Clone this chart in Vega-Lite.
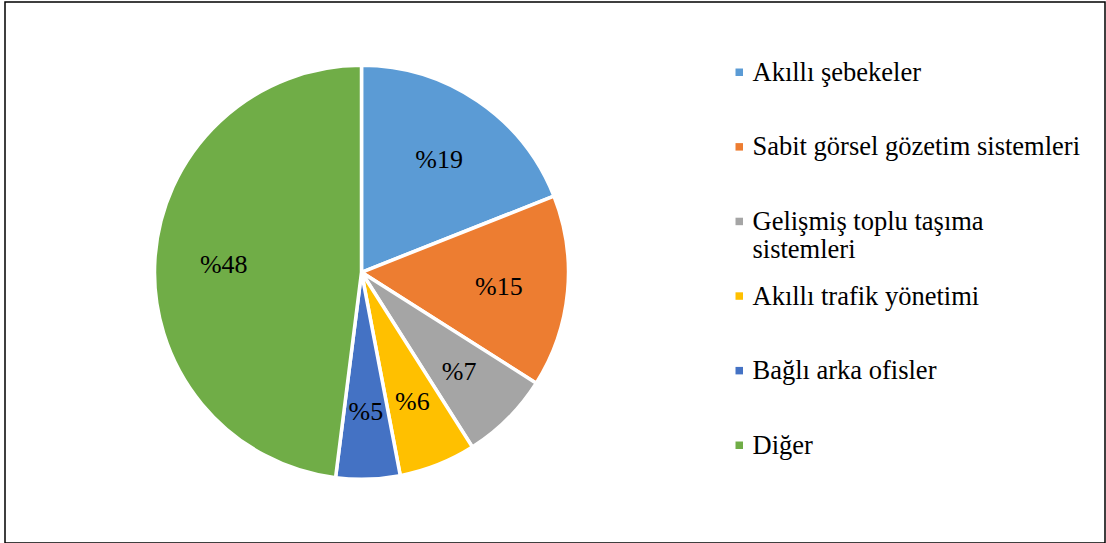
{
  "$schema": "https://vega.github.io/schema/vega-lite/v6.json",
  "width": 1100,
  "height": 541,
  "padding": {"left": 5, "top": 2, "right": 1, "bottom": 0},
  "autosize": {"type": "none"},
  "background": "white",
  "view": {"stroke": "#000", "strokeWidth": 1.5, "fill": "white"},
  "config": {"view": {"stroke": "#000", "strokeWidth": 1.5}},
  "data": {
    "values": [
      {"category": "Akıllı şebekeler", "value": 19, "order": 1},
      {"category": "Sabit görsel gözetim sistemleri", "value": 15, "order": 2},
      {"category": "Gelişmiş toplu taşıma sistemleri", "value": 7, "order": 3},
      {"category": "Akıllı trafik yönetimi", "value": 6, "order": 4},
      {"category": "Bağlı arka ofisler", "value": 5, "order": 5},
      {"category": "Diğer", "value": 48, "order": 6}
    ]
  },
  "encoding": {
    "theta": {"field": "value", "type": "quantitative", "stack": true},
    "order": {"field": "order", "type": "quantitative"}
  },
  "layer": [
    {
      "mark": {"type": "arc", "outerRadius": 207, "stroke": "white", "strokeWidth": 3.5, "x": 356.5, "y": 270.3},
      "encoding": {
        "color": {
          "field": "category",
          "type": "nominal",
          "scale": {
            "domain": ["Akıllı şebekeler", "Sabit görsel gözetim sistemleri", "Gelişmiş toplu taşıma sistemleri", "Akıllı trafik yönetimi", "Bağlı arka ofisler", "Diğer"],
            "range": ["#5B9BD5", "#ED7D31", "#A5A5A5", "#FFC000", "#4472C4", "#70AD47"]
          },
          "legend": {
            "orient": "none",
            "legendX": 721,
            "legendY": 57,
            "title": null,
            "padding": 0,
            "symbolType": "square",
            "symbolSize": 56,
            "symbolStrokeWidth": 0,
            "symbolStrokeColor": "transparent",
            "labelFont": "Liberation Serif, Times New Roman, serif",
            "labelFontSize": 26.5,
            "labelColor": "#000",
            "labelOffset": 0,
            "labelLimit": 500,
            "labelBaseline": "alphabetic",
            "labelLineHeight": 28,
            "rowPadding": 18.6,
            "gridAlign": "all",
            "labelExpr": "datum.label == 'Gelişmiş toplu taşıma sistemleri' ? ['Gelişmiş toplu taşıma', 'sistemleri'] : datum.label",
            "encode": {"labels": {"update": {"dy": {"value": 8.5}}}}
          }
        }
      }
    },
    {
      "mark": {"type": "text", "radius": 138, "x": 356.5, "y": 272, "font": "Liberation Serif, Times New Roman, serif", "fontSize": 26, "text": {"expr": "'%' + datum.value"}},
      "encoding": {"color": {"value": "#000"}}
    }
  ]
}
